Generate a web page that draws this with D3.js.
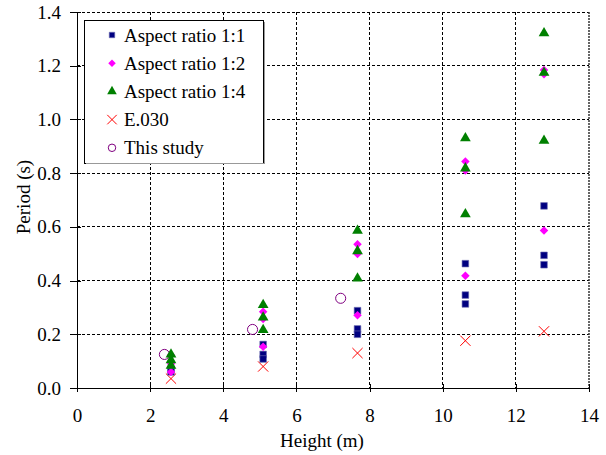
<!DOCTYPE html>
<html>
<head>
<meta charset="utf-8">
<script src="https://cdn.jsdelivr.net/npm/d3@7"></script>
<style>
  html, body { margin: 0; padding: 0; background: #fff; }
</style>
</head>
<body>
<div id="chart"></div>
<script>
// Period vs height scatter.
const xTicks = [0, 2, 4, 6, 8, 10, 12, 14];
const yTicks = [0, 0.2, 0.4, 0.6, 0.8, 1.0, 1.2, 1.4];

const h11 = [2.57, 2.57, 5.09, 5.09, 5.09, 7.67, 7.67, 7.67, 10.62, 10.62, 10.62, 12.77, 12.77, 12.77];
const p11 = [0.070, 0.060, 0.162, 0.125, 0.108, 0.288, 0.220, 0.200, 0.463, 0.346, 0.313, 0.678, 0.494, 0.459];

const h12 = [2.57, 2.57, 2.57, 5.09, 5.09, 5.09, 7.67, 7.67, 7.67, 10.62, 10.62, 10.62, 12.77, 12.77, 12.77];
const p12 = [0.122, 0.090, 0.060, 0.284, 0.257, 0.154, 0.535, 0.499, 0.271, 0.843, 0.810, 0.418, 1.184, 1.168, 0.586];

const h14 = [2.57, 2.57, 2.57, 5.09, 5.09, 5.09, 7.67, 7.67, 7.67, 10.62, 10.62, 10.62, 12.77, 12.77, 12.77];
const p14 = [0.125, 0.104, 0.083, 0.309, 0.263, 0.216, 0.586, 0.510, 0.408, 0.930, 0.818, 0.647, 1.321, 1.174, 0.921];

const hE = [2.57, 5.09, 7.67, 10.62, 12.77];
const pE = [0.035, 0.080, 0.130, 0.176, 0.211];

const hS = [2.39, 4.80, 7.21];
const pS = [0.125, 0.218, 0.334];

const W = 606, H = 455;
const L = 77, R = 589, T = 12, B = 388;
const FONT = "'Liberation Serif', 'Times New Roman', serif";
const FS = "19px";

const svg = d3.select("#chart").append("svg")
  .attr("width", W).attr("height", H);

const x = d3.scaleLinear().domain([0, 14]).range([L, R]);
const y = d3.scaleLinear().domain([0, 1.4]).range([B, T]);

// grid
const grid = svg.append("g").attr("stroke", "#000").attr("stroke-width", 1)
  .attr("stroke-dasharray", "3,2").attr("shape-rendering", "crispEdges");
grid.selectAll("line.v").data(xTicks.slice(1, -1)).join("line")
  .attr("x1", d => x(d)).attr("x2", d => x(d)).attr("y1", T).attr("y2", B);
grid.selectAll("line.h").data(yTicks.slice(1)).join("line")
  .attr("x1", L).attr("x2", R).attr("y1", d => y(d)).attr("y2", d => y(d));

// right border
svg.append("line").attr("x1", R).attr("x2", R).attr("y1", T).attr("y2", B)
  .attr("stroke", "#333").attr("stroke-width", 1.5).attr("stroke-dasharray", "2,1");

// axes
const xAxis = d3.axisBottom(x).tickValues(xTicks).tickSizeInner(4).tickSizeOuter(0).tickPadding(17)
  .tickFormat(d3.format("d"));
const gx = svg.append("g").attr("transform", `translate(0,${B})`).call(xAxis);
gx.selectAll(".tick line").attr("y1", -4);
const yAxis = d3.axisLeft(y).tickValues(yTicks).tickSizeInner(7).tickSizeOuter(0).tickPadding(9)
  .tickFormat(d3.format(".1f"));
const gy = svg.append("g").attr("transform", `translate(${L},0)`).call(yAxis);
gy.selectAll(".tick line").attr("x1", 4);
[gx, gy].forEach(g => {
  g.attr("font-family", null).attr("font-size", null);
  g.selectAll("text").style("font-family", FONT).style("font-size", FS).attr("fill", "#000");
  g.selectAll("path, line").attr("stroke", "#000").attr("shape-rendering", "crispEdges");
});

// axis titles
svg.append("text").attr("x", (L + R) / 2 - 11).attr("y", 447).attr("text-anchor", "middle")
  .style("font-family", FONT).style("font-size", FS).text("Height (m)");
svg.append("text").attr("transform", `translate(30,197) rotate(-90)`)
  .attr("text-anchor", "middle").style("font-family", FONT).style("font-size", FS).text("Period (s)");

// markers
const shapes = {
  sq:  { sym: d3.symbolSquare,   size: 44, fill: "#000080", stroke: "#6b6bb0", sw: 0.6 },
  dia: { sym: d3.symbolDiamond2, size: 46, fill: "#ff00ff", stroke: "none", sw: 0 },
  tri: { sym: d3.symbolTriangle, size: 50, fill: "#008000", stroke: "none", sw: 0 },
  x:   { sym: d3.symbolTimes,    size: 70, fill: "none", stroke: "#ff0000", sw: 1 },
  o:   { sym: d3.symbolCircle,   size: 80, fill: "none", stroke: "#800080", sw: 1 }
};

function plot(xs, ys, key) {
  const s = shapes[key];
  svg.append("g").selectAll("path").data(xs.map((v, i) => [v, ys[i]])).join("path")
    .attr("transform", d => `translate(${x(d[0])},${y(d[1])})`)
    .attr("d", d3.symbol(s.sym, s.size))
    .attr("fill", s.fill).attr("stroke", s.stroke).attr("stroke-width", s.sw);
}
plot(hS, pS, "o");
plot(hE, pE, "x");
plot(h11, p11, "sq");
plot(h12, p12, "dia");
plot(h14, p14, "tri");

// legend
const lg = svg.append("g");
lg.append("rect").attr("x", 84.5).attr("y", 20.5).attr("width", 179).attr("height", 143)
  .attr("fill", "#fff").attr("stroke", "#000").attr("stroke-width", 1);
lg.append("path").attr("d", "M86,163.5 H264 M264.5,22 V164")
  .attr("stroke", "#999").attr("stroke-width", 1).attr("fill", "none");
const items = [
  ["sq", "Aspect ratio 1:1"],
  ["dia", "Aspect ratio 1:2"],
  ["tri", "Aspect ratio 1:4"],
  ["x", "E.030"],
  ["o", "This study"]
];
const legendSize = { sq: 30, dia: 36, tri: 40, x: 60, o: 44 };
items.forEach(([k, label], i) => {
  const cy = 35 + i * 28.2;
  const s = shapes[k];
  lg.append("path").attr("transform", `translate(112,${cy})`)
    .attr("d", d3.symbol(s.sym, legendSize[k]))
    .attr("fill", s.fill).attr("stroke", s.stroke).attr("stroke-width", s.sw);
  lg.append("text").attr("x", 124).attr("y", cy + 6.5)
    .style("font-family", FONT).style("font-size", FS).text(label);
});
</script>
</body>
</html>
